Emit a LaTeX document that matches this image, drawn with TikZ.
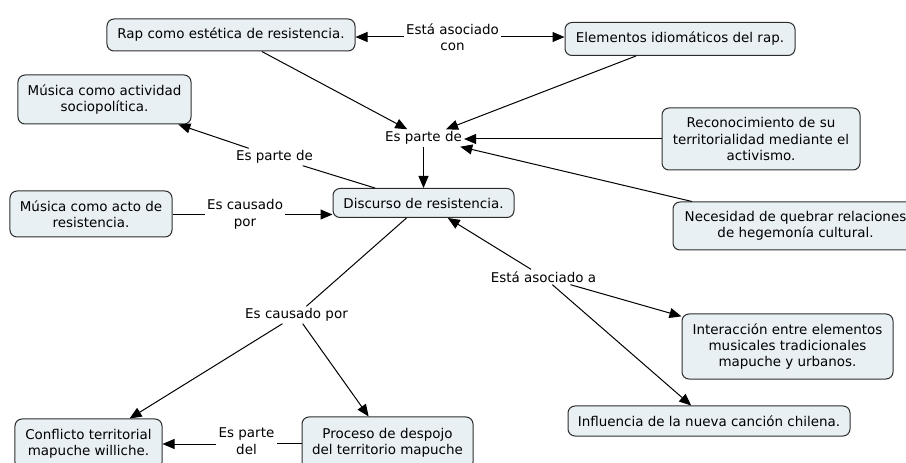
\documentclass[tikz,border=0pt]{standalone}
\usepackage{fontspec}
\setmainfont{DejaVu Sans}
\usetikzlibrary{arrows.meta}
\definecolor{boxfill}{RGB}{232,240,244}
\definecolor{boxline}{RGB}{45,45,45}
\begin{document}
\begin{tikzpicture}[x=1bp,y=-1bp,
  concept/.style={draw=boxline,line width=1bp,fill=boxfill,rounded corners=7bp,
    align=center,inner sep=0pt,font=\fontsize{13.5}{16.5}\selectfont},
  link/.style={align=center,inner sep=2bp,font=\fontsize{13.5}{16.5}\selectfont},
  arr/.style={draw=black,line width=1bp,-{Triangle[length=12bp,width=10bp]}},
  ln/.style={draw=black,line width=1bp}]
\useasboundingbox (0,0) rectangle (906,463);
\begin{scope}
\clip (0,0) rectangle (906,463);
% concepts
\node[concept,minimum width=248bp,minimum height=32bp] (rap) at (231,35) {Rap como estética de resistencia.};
\node[concept,minimum width=230bp,minimum height=33bp] (elem) at (680,39) {Elementos idiomáticos del rap.};
\node[concept,minimum width=173bp,minimum height=49bp] (musa) at (104.5,99.5) {Música como actividad\\sociopolítica.};
\node[concept,minimum width=198bp,minimum height=62bp] (recon) at (761,139) {Reconocimiento de su\\territorialidad mediante el\\activismo.};
\node[concept,minimum width=181bp,minimum height=29bp] (disc) at (423.5,203) {Discurso de resistencia.};
\node[concept,minimum width=162bp,minimum height=46bp] (musb) at (91,214) {Música como acto de\\resistencia.};
\node[concept,minimum width=245bp,minimum height=48bp] (neces) at (795.5,226) {Necesidad de quebrar relaciones\\de hegemonía cultural.};
\node[concept,minimum width=211bp,minimum height=65bp] (inter) at (787.5,346.5) {Interacción entre elementos\\musicales tradicionales\\mapuche y urbanos.};
\node[concept,minimum width=282bp,minimum height=30bp] (infl) at (709,421) {Influencia de la nueva canción chilena.};
\node[concept,minimum width=147bp,minimum height=50bp] (conf) at (88.5,444) {Conflicto territorial\\mapuche williche.};
\node[concept,minimum width=171bp,minimum height=52bp] (proc) at (387.5,443) {Proceso de despojo\\del territorio mapuche};
% links
\node[link] (l1) at (452.5,37) {Está asociado\\con};
\node[link] (l2) at (423.5,138) {Es parte de};
\node[link] (l3) at (274.5,157) {Es parte de};
\node[link] (l4) at (245,214.5) {Es causado\\por};
\node[link] (l5) at (543.5,277) {Está asociado a};
\node[link] (l6) at (296.5,315) {Es causado por};
\node[link] (l7) at (246.5,441) {Es parte\\del};
% connectors
\draw[arr] (l1.west) -- (rap.east |- l1.west);
\draw[arr] (l1.east) -- (elem.west |- l1.east);
\draw[arr] (rap) -- (l2);
\draw[arr] (elem) -- (l2);
\draw[arr] (recon.west) -- (l2.east |- recon.west);
\draw[arr] (neces) -- (l2);
\draw[arr] (l2) -- (disc);
\draw[ln] (disc) -- (l3);
\draw[arr] (l3) -- (musa);
\draw[ln] (musb.east |- l4.west) -- (l4.west);
\draw[arr] (l4.east) -- (disc.west |- l4.east);
\draw[ln] (disc) -- (l6);
\draw[arr] (l6) -- (conf);
\draw[arr] (l6) -- (proc);
\draw[ln] (proc.west) -- (l7.east |- proc.west);
\draw[arr] (l7.west |- conf.east) -- (conf.east);
\draw[arr] (l5) -- (disc);
\draw[arr] (l5) -- (inter);
\draw[arr] (l5) -- (infl);
\end{scope}
\end{tikzpicture}
\end{document}
